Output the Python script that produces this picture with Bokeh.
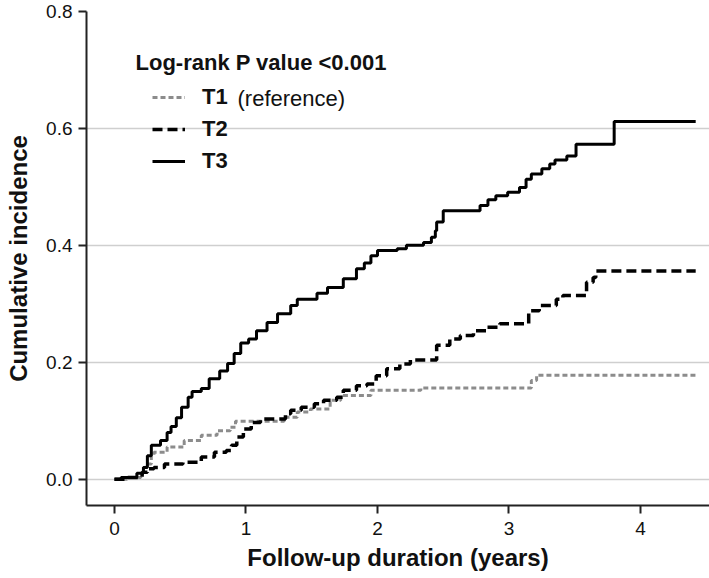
from bokeh.plotting import figure
from bokeh.models import (Range1d, FixedTicker, NumeralTickFormatter, Legend, LegendItem, Label)
from bokeh.embed import file_html
from bokeh.resources import INLINE

# ---- data ----
years_ticks = [0, 1, 2, 3, 4]
incidence_ticks = [0.0, 0.2, 0.4, 0.6, 0.8]

t1_time = [0.00, 0.10, 0.20, 0.22, 0.24, 0.28, 0.30, 0.40, 0.53, 0.66, 0.78, 0.88, 0.92,
           1.29, 1.39, 1.49, 1.64, 1.72, 1.95, 2.33, 3.17, 3.21, 4.42]
t1_inc = [0.000, 0.003, 0.010, 0.020, 0.026, 0.040, 0.046, 0.055, 0.066, 0.075, 0.083, 0.089, 0.099,
          0.106, 0.115, 0.120, 0.135, 0.143, 0.152, 0.156, 0.169, 0.178, 0.178]

t2_time = [0.00, 0.10, 0.21, 0.25, 0.30, 0.38, 0.52, 0.66, 0.76, 0.85, 0.89, 0.93, 0.98, 1.04, 1.11,
           1.30, 1.34, 1.42, 1.52, 1.59, 1.69, 1.74, 1.84, 1.92, 1.99, 2.07, 2.17, 2.25, 2.45,
           2.55, 2.63, 2.73, 2.83, 2.93, 3.15, 3.23, 3.36, 3.41, 3.59, 3.64, 3.66, 4.42]
t2_inc = [0.000, 0.003, 0.012, 0.018, 0.020, 0.026, 0.029, 0.038, 0.046, 0.049, 0.058, 0.072, 0.086, 0.097, 0.103,
          0.112, 0.118, 0.123, 0.129, 0.135, 0.140, 0.152, 0.160, 0.163, 0.177, 0.189, 0.197, 0.204, 0.229,
          0.240, 0.246, 0.254, 0.260, 0.266, 0.288, 0.297, 0.308, 0.314, 0.337, 0.345, 0.356, 0.356]

t3_time = [0.00, 0.05, 0.17, 0.22, 0.25, 0.28, 0.35, 0.40, 0.43, 0.47, 0.51, 0.56, 0.59, 0.66, 0.72,
           0.80, 0.86, 0.91, 0.96, 1.02, 1.08, 1.16, 1.24, 1.34, 1.39, 1.54, 1.62, 1.74, 1.84, 1.90,
           1.95, 2.00, 2.15, 2.22, 2.35, 2.41, 2.44, 2.45, 2.50, 2.78, 2.84, 2.90, 2.99, 3.08, 3.13,
           3.17, 3.25, 3.31, 3.35, 3.44, 3.51, 3.80, 4.42]
t3_inc = [0.000, 0.003, 0.010, 0.020, 0.040, 0.058, 0.066, 0.080, 0.090, 0.105, 0.123, 0.140, 0.150, 0.155, 0.172,
          0.185, 0.198, 0.215, 0.233, 0.240, 0.254, 0.268, 0.283, 0.297, 0.308, 0.318, 0.328, 0.343, 0.360, 0.370,
          0.382, 0.391, 0.394, 0.400, 0.405, 0.414, 0.425, 0.440, 0.459, 0.468, 0.478, 0.485, 0.491, 0.499, 0.513,
          0.522, 0.531, 0.539, 0.546, 0.553, 0.573, 0.612, 0.612]

FONT = "Liberation Sans"
INK = "#111111"

p = figure(width=709, height=578, output_backend="svg", toolbar_location=None,
           x_range=Range1d(-0.213, 4.525), y_range=Range1d(-0.045, 0.8),
           min_border_left=86, min_border_right=0, min_border_top=11, min_border_bottom=73)
p.outline_line_color = None
p.background_fill_color = "white"

r1 = p.step(t1_time, t1_inc, mode="after", line_color="#8c8c8c", line_width=3, line_dash="5 3")
r2 = p.step(t2_time, t2_inc, mode="after", line_color="black", line_width=3.5, line_dash="10 5")
r3 = p.step(t3_time, t3_inc, mode="after", line_color="black", line_width=3)

# axes
p.xaxis.ticker = FixedTicker(ticks=years_ticks)
p.yaxis.ticker = FixedTicker(ticks=incidence_ticks)
p.yaxis.formatter = NumeralTickFormatter(format="0.0")
for ax in (p.xaxis, p.yaxis):
    ax.axis_line_width = 2
    ax.axis_line_color = "#222222"
    ax.major_tick_line_width = 2
    ax.major_tick_line_color = "#222222"
    ax.major_tick_out = 8
    ax.major_tick_in = 0
    ax.minor_tick_out = 0
    ax.minor_tick_in = 0
    ax.major_label_text_font = FONT
    ax.major_label_text_font_size = "19px"
    ax.major_label_text_color = INK
    ax.axis_label_text_font = FONT
    ax.axis_label_text_font_style = "bold"
    ax.axis_label_text_font_size = "24px"
    ax.axis_label_text_color = INK
p.xaxis.axis_label = "Follow-up duration (years)"
p.yaxis.axis_label = "Cumulative incidence"
p.xaxis.major_label_standoff = 8
p.yaxis.major_label_standoff = 6
p.xaxis.axis_label_standoff = 6
p.yaxis.axis_label_standoff = 11

p.xgrid.visible = False
p.ygrid.ticker = FixedTicker(ticks=incidence_ticks)
p.ygrid.grid_line_color = "#cfcfcf"
p.ygrid.grid_line_width = 1.5

# legend
legend = Legend(items=[LegendItem(label="T1", renderers=[r1]),
                       LegendItem(label="T2", renderers=[r2]),
                       LegendItem(label="T3", renderers=[r3])],
                location=(66, 331), orientation="vertical",
                glyph_width=33, glyph_height=26, label_height=26, label_standoff=17,
                spacing=6, padding=0, margin=0,
                border_line_alpha=0, background_fill_alpha=0,
                label_text_font=FONT, label_text_font_style="bold",
                label_text_font_size="22px", label_text_color=INK)
p.add_layout(legend, "center")

p.add_layout(Label(x=49, y=443, x_units="screen", y_units="screen",
                   text="Log-rank P value <0.001", text_font=FONT, text_font_style="bold",
                   text_font_size="22px", text_baseline="middle", text_align="left",
                   text_color=INK))
p.add_layout(Label(x=151, y=407, x_units="screen", y_units="screen",
                   text="(reference)", text_font=FONT, text_font_style="normal",
                   text_font_size="22px", text_baseline="middle", text_align="left",
                   text_color=INK))

open("out.html", "w").write(file_html(p, INLINE))
